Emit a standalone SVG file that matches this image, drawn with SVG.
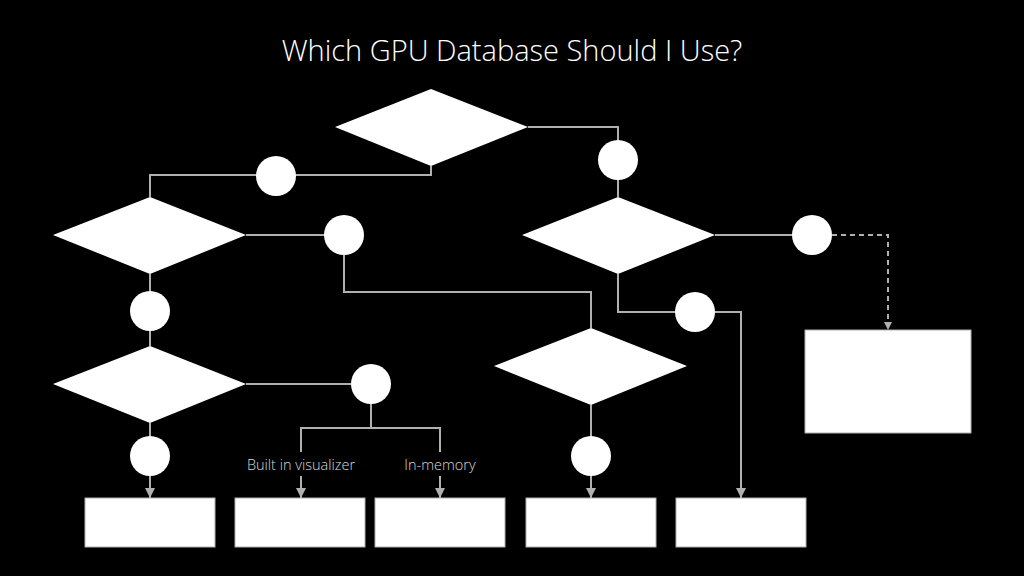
<svg xmlns="http://www.w3.org/2000/svg" width="1024" height="576" viewBox="0 0 1024 576">
<defs>
<marker id="ah" markerWidth="10" markerHeight="10" refX="10" refY="5" orient="auto" markerUnits="userSpaceOnUse">
<path d="M0,0 L10,5 L0,10 Z" fill="#b0b0b0"/>
</marker>
<marker id="ahs" markerWidth="8" markerHeight="8" refX="8" refY="4" orient="auto" markerUnits="userSpaceOnUse">
<path d="M0,0 L8,4 L0,8 Z" fill="#b0b0b0"/>
</marker>
<style>
.ln{fill:none;stroke:#b0b0b0;stroke-width:2}
.dash{fill:none;stroke:#b0b0b0;stroke-width:2;stroke-dasharray:5,4}
.sh{fill:#ffffff;stroke:none}
.bx{fill:#ffffff;stroke:#b0b0b0;stroke-width:1}
.lbl{font-family:"Open Sans","Liberation Sans",sans-serif;font-weight:300;font-size:14.5px;fill:#d8d8d8;text-anchor:middle}
.title{font-family:"Open Sans","Liberation Sans",sans-serif;font-weight:300;font-size:29px;fill:#ffffff;text-anchor:middle}
</style>
</defs>
<rect width="1024" height="576" fill="#000000"/>
<text class="title" x="512" y="61">Which GPU Database Should I Use?</text>
<g id="connectors">
<polyline class="ln" points="528,127 618,127 618,197"/>
<polyline class="ln" points="431,166 431,175 150,175 150,197"/>
<line class="ln" x1="246" y1="235" x2="344" y2="235"/>
<polyline class="ln" points="344,255 344,292 591,292 591,328"/>
<line class="ln" x1="150" y1="274" x2="150" y2="346"/>
<line class="ln" x1="246" y1="384" x2="371" y2="384"/>
<polyline class="ln" points="371,404 371,428"/>
<polyline class="ln" points="301,452 301,428 440,428 440,452"/>
<line class="ln" x1="301" y1="476" x2="301" y2="498" marker-end="url(#ah)"/>
<line class="ln" x1="440" y1="476" x2="440" y2="498" marker-end="url(#ah)"/>
<line class="ln" x1="150" y1="423" x2="150" y2="498" marker-end="url(#ah)"/>
<line class="ln" x1="715" y1="235" x2="812" y2="235"/>
<polyline class="dash" points="832,235 888,235 888,330" marker-end="url(#ahs)"/>
<polyline class="ln" points="618,274 618,312 695,312"/>
<polyline class="ln" points="715,312 741,312 741,498" marker-end="url(#ah)"/>
<line class="ln" x1="591" y1="405" x2="591" y2="498" marker-end="url(#ah)"/>
</g>
<g id="d1"><polygon class="sh" points="335,127 431,89 528,127 431,166"/></g>
<g id="d2"><polygon class="sh" points="53,235 150,197 246,235 150,274"/></g>
<g id="d3"><polygon class="sh" points="53,384 150,346 246,384 150,423"/></g>
<g id="d4"><polygon class="sh" points="494,366 591,328 687,366 591,405"/></g>
<g id="d5"><polygon class="sh" points="522,235 618,197 715,235 618,274"/></g>
<g id="c1"><circle class="sh" cx="276" cy="176" r="20"/></g>
<g id="c2"><circle class="sh" cx="618" cy="160" r="20"/></g>
<g id="c3"><circle class="sh" cx="344" cy="235" r="20"/></g>
<g id="c4"><circle class="sh" cx="150" cy="311" r="20"/></g>
<g id="c5"><circle class="sh" cx="371" cy="384" r="20"/></g>
<g id="c6"><circle class="sh" cx="150" cy="456" r="20"/></g>
<g id="c7"><circle class="sh" cx="591" cy="456" r="20"/></g>
<g id="c8"><circle class="sh" cx="812" cy="235" r="20"/></g>
<g id="c9"><circle class="sh" cx="695" cy="312" r="20"/></g>
<g id="l1"><text class="lbl" x="301" y="470">Built in visualizer</text></g>
<g id="l2"><text class="lbl" x="440" y="470">In-memory</text></g>
<g id="b1"><rect class="bx" x="85" y="498" width="130" height="49"/></g>
<g id="b2"><rect class="bx" x="235" y="498" width="130" height="49"/></g>
<g id="b3"><rect class="bx" x="375" y="498" width="130" height="49"/></g>
<g id="b4"><rect class="bx" x="526" y="498" width="130" height="49"/></g>
<g id="b5"><rect class="bx" x="676" y="498" width="130" height="49"/></g>
<g id="b6"><rect class="bx" x="805" y="330" width="166" height="103"/></g>
</svg>
